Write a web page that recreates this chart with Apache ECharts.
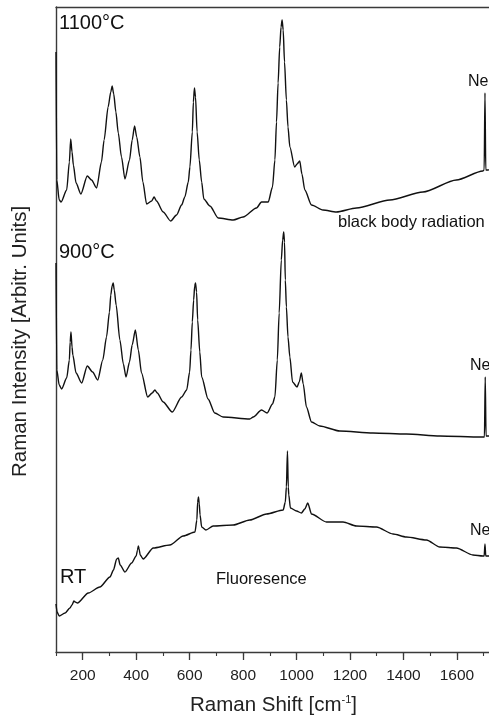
<!DOCTYPE html>
<html>
<head>
<meta charset="utf-8">
<script src="https://cdn.jsdelivr.net/npm/echarts@6/dist/echarts.min.js"></script>
<style>html,body{margin:0;padding:0;background:#fff}#c{width:489px;height:720px}</style>
</head>
<body>
<div id="c"></div>
<script>
// Raman shift (cm^-1) and intensity (arbitrary units, offset per curve)
const wn1100 = [100,103,112,119,140,150,155,160,165,175,193,217,233,252,270,280,295,305,310,316,324,333,345,358,375,385,394,402,414,425,439,458,467,476,501,529,551,570,582,595,601,610,614,618,622,628,636,645,653,676,707,763,800,850,869,894,910,919,925,931,937,942,946,950,955,962,968,975,993,1002,1012,1020,1031,1056,1099,1149,1224,1349,1473,1598,1697,1702,1705,1708,1716,1750];
const int1100 = [600,472,452,450,462,490,513,500,487,469,458,476,472,464,490,512,545,560,566,558,540,519,495,473,492,512,526,515,495,470,448,451,455,451,440,431,437,447,455,470,485,520,550,564,555,520,492,470,453,446,434,432,435,444,450,450,465,492,530,569,605,625,632,622,590,552,525,505,485,488,491,478,462,447,442,440,444,452,460,472,481,482,559,482,482,484];

const wn900 = [100,103,112,121,140,150,153,156,160,163,175,196,217,237,256,275,289,300,305,310,314,318,325,339,352,362,375,385,397,408,420,443,460,470,479,501,535,570,589,600,605,610,615,619,622,626,630,638,645,669,694,725,825,838,869,890,910,919,928,935,943,948,952,955,958,962,968,975,985,1002,1010,1018,1025,1037,1056,1087,1162,1286,1411,1536,1691,1703,1706,1709,1750];
const int900 = [389,282,267,263,274,292,310,320,305,297,279,269,286,280,272,292,315,340,357,366,369,362,347,312,288,275,290,307,322,302,279,255,259,262,259,250,240,255,262,280,302,330,352,366,369,360,332,300,275,253,239,235,233,235,242,239,248,255,292,339,392,412,420,410,372,345,315,295,270,265,270,279,268,245,230,226,221,219,218,216,215,215,275,216,216];

const wnRT = [100,104,112,134,152,160,167,172,180,221,264,302,315,327,333,340,358,383,400,405,408,411,415,426,464,526,576,620,627,630,633,636,639,645,661,688,763,825,888,950,958,962,966,969,971,977,1000,1018,1031,1042,1056,1112,1174,1224,1299,1361,1411,1486,1536,1598,1660,1697,1702,1705,1708,1750];
const intRT = [48,40,36,39,44,47,51,50,49,59,65,75,82,93,94,87,80,89,96,102,106,103,97,93,104,107,116,120,132,150,155,148,137,125,122,126,127,132,138,142,150,165,201,165,157,144,141,139,143,149,138,130,130,126,125,118,115,112,105,104,97,96,96,108,96,96];

const xMajorTicks = [200,400,600,800,1000,1200,1400,1600];

function pairs(xs, ys){ return xs.map((x,i)=>[x, ys[i]]); }

const chart = echarts.init(document.getElementById('c'), null, {renderer:'canvas'});
const FONT = 'Arial, "Liberation Sans", sans-serif';
const axisColor = '#3a3a3a';
const lineCol = '#111';

function curve(name, xs, ys){
  return {name, type: 'line', data: pairs(xs, ys), showSymbol: false, clip: true,
    smooth: 0.25, smoothMonotone: 'x', xAxisIndex: 0, yAxisIndex: 0,
    lineStyle: {color: lineCol, width: 1.4}};
}

chart.setOption({
  backgroundColor: '#fff',
  animation: false,
  textStyle: {fontFamily: FONT},
  grid: {left: 56, top: 7, width: 441, height: 645, outerBoundsMode: 'none', containLabel: false},
  xAxis: [{
    type: 'value', min: 100, max: 1750, interval: 100, position: 'bottom',
    axisLine: {show: true, onZero: false, lineStyle: {color: axisColor, width: 1.4}},
    axisTick: {show: true, length: 8, customValues: xMajorTicks, lineStyle: {color: axisColor, width: 1.3}},
    axisLabel: {customValues: xMajorTicks, fontSize: 15.5, color: '#222', margin: 16, fontFamily: FONT,
      formatter: v => String(v)},
    splitLine: {show: false},
    name: 'Raman Shift [cm{sup|-1}]',
    nameLocation: 'middle', nameGap: 42,
    nameTextStyle: {fontSize: 20.5, color: '#222', fontFamily: FONT, padding: [0, 6, 0, 0],
      rich: {sup: {fontSize: 11, verticalAlign: 'top', padding: [0, 0, 11, 0], color: '#222'}}}
  }, {
    type: 'value', min: 100, max: 1750, interval: 100, position: 'bottom',
    axisLine: {show: false},
    axisTick: {show: true, length: 4, lineStyle: {color: axisColor, width: 1.1}},
    axisLabel: {show: false},
    splitLine: {show: false}
  }, {
    type: 'value', min: 100, max: 1750, position: 'top',
    axisLine: {show: true, onZero: false, lineStyle: {color: axisColor, width: 1.4}},
    axisTick: {show: false}, axisLabel: {show: false}, splitLine: {show: false}
  }],
  yAxis: {
    type: 'value', min: 0, max: 645,
    axisLine: {show: true, lineStyle: {color: axisColor, width: 1.4}},
    axisTick: {show: false}, axisLabel: {show: false}, splitLine: {show: false},
    name: 'Raman Intensity [Arbitr. Units]', nameLocation: 'middle', nameGap: 25,
    nameTextStyle: {fontSize: 20.5, color: '#222', fontFamily: FONT, padding: [0, 24, 0, 0]}
  },
  series: [
    curve('1100°C', wn1100, int1100),
    curve('900°C', wn900, int900),
    curve('RT', wnRT, intRT)
  ],
  graphic: [
    {type: 'text', x: 59, y: 23, style: {text: '1100°C', font: '20px ' + FONT, fill: '#111', verticalAlign: 'middle'}},
    {type: 'text', x: 59, y: 252, style: {text: '900°C', font: '20px ' + FONT, fill: '#111', verticalAlign: 'middle'}},
    {type: 'text', x: 60, y: 577, style: {text: 'RT', font: '20px ' + FONT, fill: '#111', verticalAlign: 'middle'}},
    {type: 'text', x: 338, y: 222, style: {text: 'black body radiation', font: '16.5px ' + FONT, fill: '#111', verticalAlign: 'middle'}},
    {type: 'text', x: 216, y: 579, style: {text: 'Fluoresence', font: '16.5px ' + FONT, fill: '#111', verticalAlign: 'middle'}},
    {type: 'text', x: 468, y: 82, style: {text: 'Ne', font: '16px ' + FONT, fill: '#111', verticalAlign: 'middle'}},
    {type: 'text', x: 470, y: 366, style: {text: 'Ne', font: '16px ' + FONT, fill: '#111', verticalAlign: 'middle'}},
    {type: 'text', x: 470, y: 531, style: {text: 'Ne', font: '16px ' + FONT, fill: '#111', verticalAlign: 'middle'}}
  ]
});
</script>
</body>
</html>
